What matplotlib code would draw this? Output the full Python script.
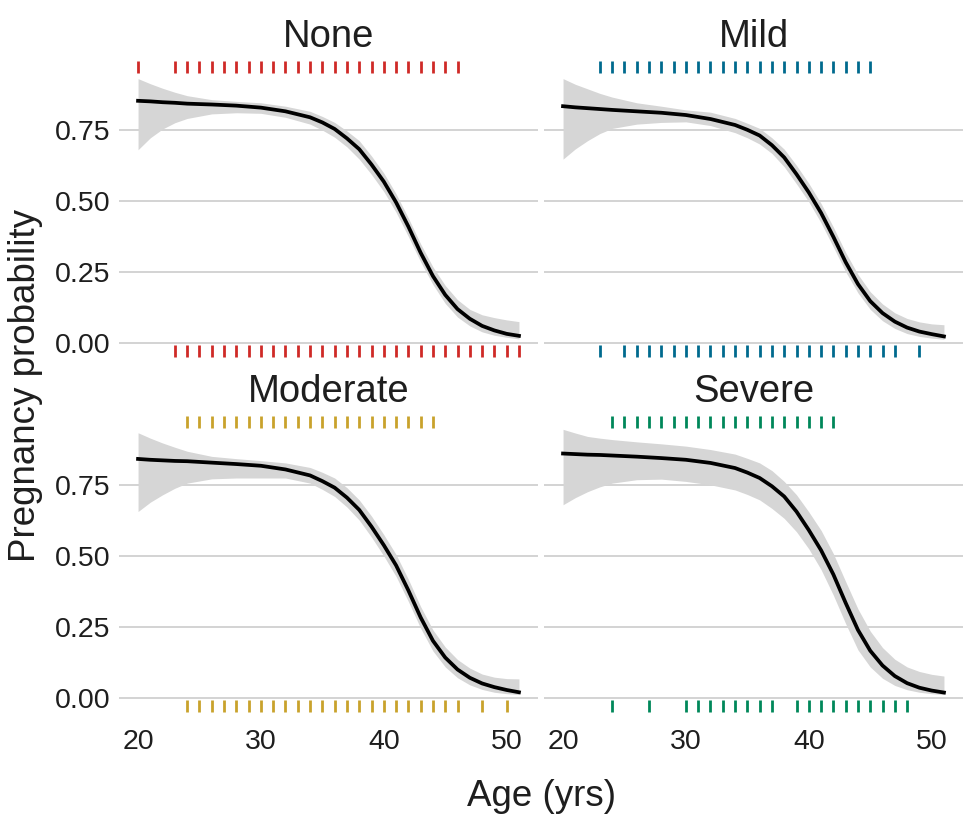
import numpy as np
import matplotlib
matplotlib.use("Agg")
import matplotlib.pyplot as plt

plt.rcParams['font.family'] = ['Liberation Sans', 'DejaVu Sans']

# age grid for the fitted curves
ages = [20, 21, 22, 23, 24, 26, 28, 30, 32, 34, 35, 36, 37, 38, 39, 40, 41, 42, 43, 44, 45, 46, 47, 48, 49, 50, 51]

panels = ["None", "Mild", "Moderate", "Severe"]

fit_none = [0.852, 0.850, 0.847, 0.845, 0.842, 0.839, 0.835, 0.828, 0.815, 0.794, 0.776, 0.753, 0.720, 0.682,
            0.628, 0.568, 0.495, 0.410, 0.318, 0.236, 0.170, 0.120, 0.086, 0.061, 0.045, 0.033, 0.026]
hi_none = [0.930, 0.912, 0.896, 0.882, 0.870, 0.856, 0.850, 0.845, 0.833, 0.815, 0.797, 0.776, 0.746, 0.712,
           0.658, 0.598, 0.525, 0.440, 0.349, 0.268, 0.203, 0.153, 0.119, 0.100, 0.090, 0.082, 0.076]
lo_none = [0.680, 0.722, 0.753, 0.775, 0.790, 0.806, 0.810, 0.808, 0.794, 0.770, 0.749, 0.724, 0.690, 0.647,
           0.593, 0.533, 0.460, 0.375, 0.286, 0.206, 0.140, 0.092, 0.061, 0.040, 0.028, 0.021, 0.015]

fit_mild = [0.833, 0.829, 0.826, 0.823, 0.820, 0.815, 0.810, 0.802, 0.788, 0.767, 0.750, 0.730, 0.696, 0.653,
            0.594, 0.530, 0.458, 0.374, 0.285, 0.208, 0.148, 0.106, 0.076, 0.055, 0.041, 0.032, 0.024]
hi_mild = [0.930, 0.910, 0.894, 0.878, 0.865, 0.845, 0.833, 0.820, 0.812, 0.790, 0.773, 0.755, 0.722, 0.682,
           0.625, 0.562, 0.491, 0.408, 0.319, 0.242, 0.181, 0.138, 0.107, 0.087, 0.075, 0.068, 0.065]
lo_mild = [0.647, 0.683, 0.712, 0.737, 0.755, 0.770, 0.776, 0.778, 0.765, 0.740, 0.722, 0.700, 0.667, 0.620,
           0.560, 0.497, 0.423, 0.338, 0.251, 0.177, 0.119, 0.079, 0.052, 0.034, 0.024, 0.018, 0.014]

fit_mod = [0.841, 0.838, 0.836, 0.834, 0.833, 0.828, 0.823, 0.817, 0.804, 0.783, 0.763, 0.740, 0.705, 0.662,
           0.603, 0.538, 0.467, 0.379, 0.284, 0.202, 0.143, 0.101, 0.072, 0.052, 0.039, 0.029, 0.021]
hi_mod = [0.933, 0.914, 0.897, 0.882, 0.868, 0.850, 0.842, 0.835, 0.827, 0.811, 0.794, 0.774, 0.740, 0.697,
          0.640, 0.575, 0.505, 0.418, 0.322, 0.240, 0.180, 0.136, 0.106, 0.085, 0.074, 0.069, 0.068]
lo_mod = [0.656, 0.689, 0.715, 0.738, 0.756, 0.771, 0.774, 0.774, 0.774, 0.756, 0.734, 0.709, 0.672, 0.626,
          0.566, 0.500, 0.428, 0.340, 0.246, 0.166, 0.110, 0.072, 0.047, 0.031, 0.021, 0.016, 0.013]

fit_sev = [0.860, 0.858, 0.856, 0.855, 0.853, 0.849, 0.844, 0.838, 0.827, 0.809, 0.793, 0.774, 0.745, 0.709,
           0.656, 0.591, 0.520, 0.435, 0.335, 0.240, 0.167, 0.115, 0.078, 0.053, 0.037, 0.027, 0.020]
hi_sev = [0.945, 0.932, 0.920, 0.914, 0.909, 0.901, 0.894, 0.886, 0.874, 0.858, 0.843, 0.827, 0.800, 0.762,
          0.715, 0.655, 0.590, 0.508, 0.410, 0.314, 0.236, 0.178, 0.137, 0.110, 0.094, 0.084, 0.078]
lo_sev = [0.680, 0.705, 0.726, 0.743, 0.756, 0.768, 0.770, 0.762, 0.750, 0.732, 0.716, 0.697, 0.667, 0.632,
          0.585, 0.525, 0.452, 0.362, 0.262, 0.170, 0.110, 0.070, 0.045, 0.030, 0.021, 0.016, 0.013]

# observed ages: pregnant (top rug) and not pregnant (bottom rug)
preg_none = [20] + list(range(23, 47))
nopreg_none = list(range(23, 52))
preg_mild = list(range(23, 46))
nopreg_mild = [23] + list(range(25, 48)) + [49]
preg_mod = list(range(24, 45))
nopreg_mod = list(range(24, 47)) + [48, 50]
preg_sev = list(range(24, 43))
nopreg_sev = [24, 27] + list(range(30, 38)) + list(range(39, 49))

fits = [fit_none, fit_mild, fit_mod, fit_sev]
his = [hi_none, hi_mild, hi_mod, hi_sev]
los = [lo_none, lo_mild, lo_mod, lo_sev]
pregs = [preg_none, preg_mild, preg_mod, preg_sev]
nopregs = [nopreg_none, nopreg_mild, nopreg_mod, nopreg_sev]
colors = ["#CF2A27", "#006A8E", "#C9A22C", "#00875A"]

fig = plt.figure(figsize=(9.75, 8.25), dpi=100)

W, H = 975, 825
boxes = [(119, 53), (544, 53), (119, 408), (544, 408)]
pw, ph = 419, 313
txt = "#1E1E1E"

for i, name in enumerate(panels):
    x0, y0 = boxes[i]
    ax = fig.add_axes([x0 / W, 1 - (y0 + ph) / H, pw / W, ph / H])
    ax.fill_between(ages, los[i], his[i], color="#D6D6D6", lw=0, zorder=2)
    ax.plot(ages, fits[i], color="black", lw=2.7, zorder=3, solid_joinstyle="round")
    ax.plot(pregs[i], [0.97] * len(pregs[i]), ls="none", marker="|", ms=8,
            mew=2.0, color=colors[i], zorder=4)
    ax.plot(nopregs[i], [-0.028] * len(nopregs[i]), ls="none", marker="|", ms=8,
            mew=2.0, color=colors[i], zorder=4)

    ax.set_xlim(18.45, 52.55)
    ax.set_ylim(-0.08, 1.02)
    ax.set_yticks([0, 0.25, 0.5, 0.75])
    ax.set_xticks([20, 30, 40, 50])
    ax.grid(axis="y", color="#CCCCCC", lw=1.2, zorder=0)
    ax.grid(axis="x", visible=False)
    for s in ax.spines.values():
        s.set_visible(False)
    ax.tick_params(length=0, labelsize=20.5, colors=txt, pad=6)
    ax.set_axisbelow(True)
    if i % 2 == 0:
        ax.set_yticklabels(["0.00", "0.25", "0.50", "0.75"])
    else:
        ax.set_yticklabels([])
    if i < 2:
        ax.set_xticklabels([])
    ax.text(0.5, 1.05, name, transform=ax.transAxes, ha="center", va="center",
            fontsize=27.5, color=txt)

fig.text(0.026, 0.5333, "Pregnancy probability", rotation=90, ha="center", va="center",
         fontsize=26.5, color=txt)
fig.text(0.555, 0.034, "Age (yrs)", ha="center", va="center", fontsize=26.5, color=txt)

fig.savefig("out.png", dpi=100)
